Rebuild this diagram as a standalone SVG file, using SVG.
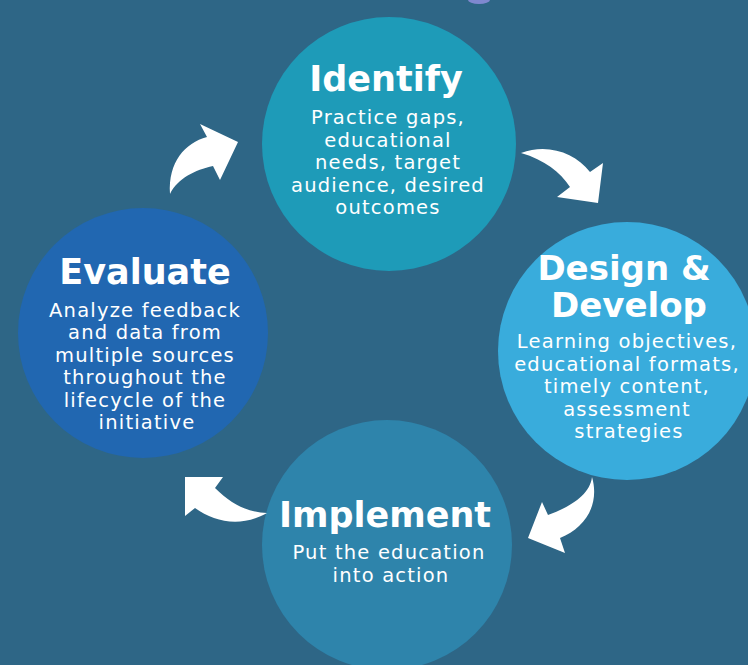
<svg xmlns="http://www.w3.org/2000/svg" width="748" height="665" viewBox="0 0 748 665">
<style>
.t{font-family:"DejaVu Sans","Noto Sans",sans-serif;font-weight:bold;font-size:35px;fill:#fff;text-anchor:middle}
.b{font-family:"DejaVu Sans","Noto Sans",sans-serif;font-size:19.5px;letter-spacing:1.2px;fill:#fff;text-anchor:middle}
.arrow{fill:#fff}
</style>
<rect width="748" height="665" fill="#2e6686"/>
<ellipse cx="479" cy="0" rx="11" ry="4" fill="#7f88cf"/>
<g id="identify">
<circle cx="389" cy="144" r="127" fill="#1e9bb8"/>
<text class="t" x="386" y="91">Identify</text>
<text class="b" x="388" y="124">Practice gaps,</text>
<text class="b" x="388" y="147">educational</text>
<text class="b" x="388" y="169">needs, target</text>
<text class="b" x="388" y="192">audience, desired</text>
<text class="b" x="388" y="214">outcomes</text>
</g>
<g id="design">
<circle cx="627" cy="351" r="129" fill="#39acdc"/>
<text class="t" x="624" y="280" style="font-size:34px">Design &amp;</text>
<text class="t" x="629" y="317" style="font-size:34px">Develop</text>
<text class="b" x="627" y="348">Learning objectives,</text>
<text class="b" x="627" y="371">educational formats,</text>
<text class="b" x="627" y="393">timely content,</text>
<text class="b" x="627" y="416">assessment</text>
<text class="b" x="629" y="438">strategies</text>
</g>
<g id="evaluate">
<circle cx="143" cy="333" r="125" fill="#2167b1"/>
<text class="t" x="145" y="284">Evaluate</text>
<text class="b" x="145" y="317">Analyze feedback</text>
<text class="b" x="145" y="339">and data from</text>
<text class="b" x="145" y="362">multiple sources</text>
<text class="b" x="145" y="384">throughout the</text>
<text class="b" x="145" y="407">lifecycle of the</text>
<text class="b" x="147" y="429">initiative</text>
</g>
<g id="implement">
<circle cx="387" cy="545" r="125" fill="#2e84ab"/>
<text class="t" x="385" y="527">Implement</text>
<text class="b" x="389" y="559">Put the education</text>
<text class="b" x="391" y="582">into action</text>
</g>
<g id="connectors">
<path class="arrow" d="M170,194 C168,162 185,143 207,137 L200,124 L238,142 L220,180 L213,166 C195,170 178,178 170,194 Z"/>
<path class="arrow" d="M521,153 C548,143 575,153 590,172 L603,163 L598,203 L557,197 L570,187 C560,172 545,160 521,153 Z"/>
<path class="arrow" d="M592,477 C600,505 585,528 560,538 L565,553 L528,538 L542,502 L548,515 C570,507 590,495 592,477 Z"/>
<path class="arrow" d="M267,513 C240,528 215,522 195,508 L185,516 L185,477 L223,477 L215,488 C232,505 248,512 267,513 Z"/>
</g>
</svg>
